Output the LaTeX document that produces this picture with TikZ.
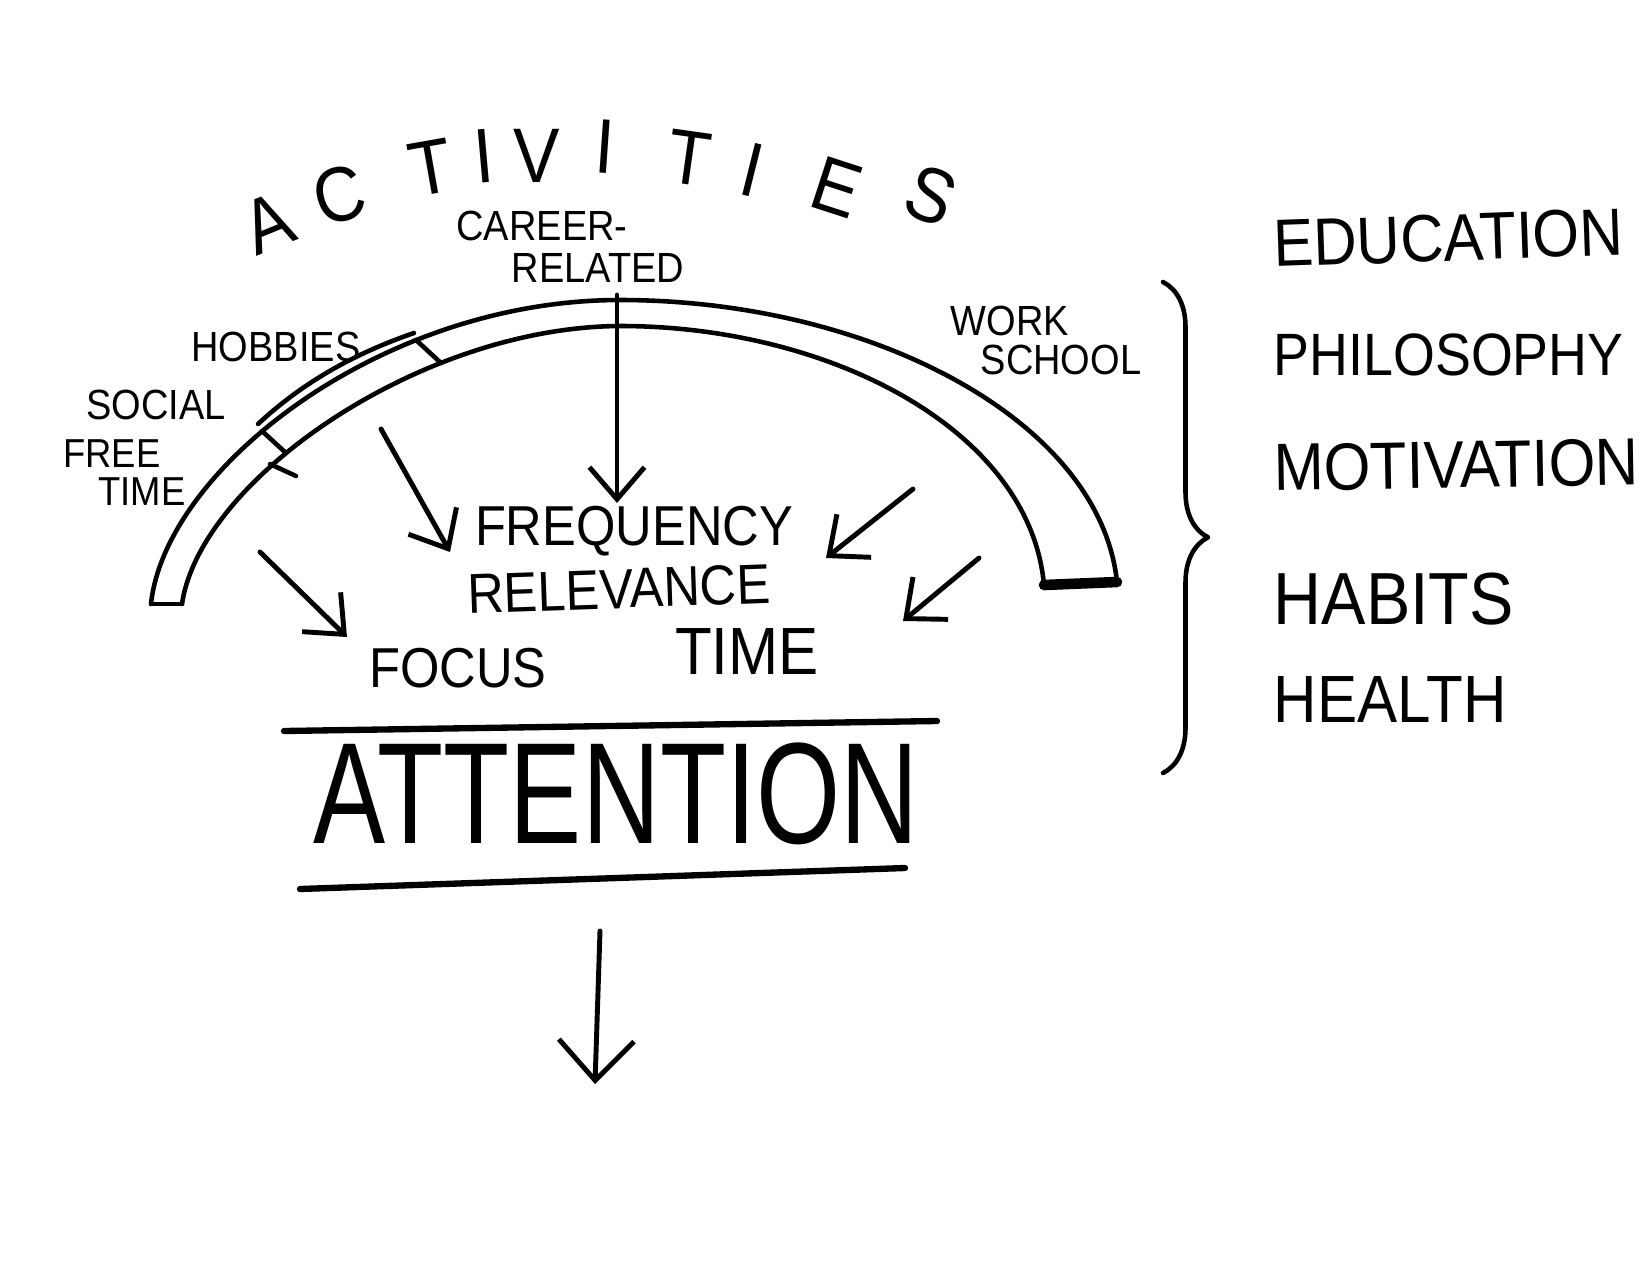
\documentclass[tikz,border=0pt]{standalone}
\usepackage{fontspec}
\setmainfont{Liberation Sans}
\newfontfamily\markerfont[FakeStretch=0.9]{Liberation Sans}
\newfontfamily\tallfont[FakeStretch=0.75]{Liberation Sans}
\usetikzlibrary{arrows.meta,decorations.pathreplacing,calc}
\tikzset{tag/.style={inner sep=0pt, font=\markerfont\fontsize{12}{15}\selectfont},
  word/.style={inner sep=0pt, font=\markerfont\fontsize{16}{19}\selectfont},
  item/.style={inner sep=0pt, anchor=west, font=\markerfont\fontsize{19}{23}\selectfont},
  letter/.style={inner sep=0pt, font=\markerfont\fontsize{22}{26}\selectfont},
  band/.style={line width=1.3pt, line cap=round, line join=round},
  pointer/.style={line width=1.4pt, line cap=round, -{Straight Barb[length=0.32cm,width=0.55cm]}},
  bigpointer/.style={pointer, -{Straight Barb[length=0.4cm,width=0.75cm]}}}

\begin{document}
\begin{tikzpicture}[x=0.01cm, y=-0.01cm]
    \useasboundingbox (0,0) rectangle (1650,1275);
    % title over the arch
    \node[letter, rotate=22] (act1) at (268,223) {A};
    \node[letter, rotate=16] (act2) at (339,195) {C};
    \node[letter, rotate=10] (act3) at (431,168) {T};
    \node[letter, rotate=5] (act4) at (484,156) {I};
    \node[letter] (act5) at (537,156) {V};
    \node[letter, rotate=-4] (act6) at (605,147) {I};
    \node[letter, rotate=-8] (act7) at (689,158) {T};
    \node[letter, rotate=-14] (act8) at (752,170) {I};
    \node[letter, rotate=-18] (act9) at (837,187) {E};
    \node[letter, rotate=-22] (act10) at (931,195) {S};

    % the arch
    \draw[band] (151,604) .. controls (165,470) and (380,300) .. (620,300) .. controls (870,300) and (1100,420) .. (1117,582);
    \draw[band] (182,604) .. controls (200,480) and (420,327) .. (620,326) .. controls (830,326) and (1030,430) .. (1044,585);
    \draw[band] (151,604) -- (182,604);
    \draw[band, line width=3pt] (1044,585) -- (1117,582);
    \draw[band] (258,424) .. controls (300,385) and (350,355) .. (414,333);
    \draw[band] (262,431) -- (286,453);
    \draw[band] (270,464) -- (296,476);
    \draw[band] (416,340) -- (441,363);

    % labels round the arch
    \node[tag] (career) at (542,226) {CAREER-};
    \node[tag] (related) at (598,268) {RELATED};
    \node[tag] (hobbies) at (276,347) {HOBBIES};
    \node[tag] (social) at (156,405) {SOCIAL};
    \node[tag, font=\markerfont\fontsize{11.5}{14}\selectfont] (free) at (112,454) {FREE};
    \node[tag, font=\markerfont\fontsize{11.5}{14}\selectfont] (freetime) at (142,492) {TIME};
    \node[tag] (work) at (1010,321) {WORK};
    \node[tag] (school) at (1061,360) {SCHOOL};

    % words under the arch
    \node[word] (freq) at (634,531) {FREQUENCY};
    \node[word, rotate=2] (relev) at (619,589) {RELEVANCE};
    \node[word] (focus) at (458,668) {FOCUS};
    \node[word, font=\markerfont\fontsize{19}{22}\selectfont] (time) at (747,652) {TIME};

    \coordinate (hobbyTail) at (381,429);
    \coordinate (freqHead) at (450,552);
    \coordinate (topTail) at (617,295);
    \coordinate (topHead) at (617,503);
    \coordinate (freeTail) at (260,552);
    \coordinate (focusHead) at (347,637);
    \coordinate (workTail) at (913,489);
    \coordinate (workHead) at (826,558);
    \coordinate (schoolTail) at (979,558);
    \coordinate (schoolHead) at (903,621);
    \draw[pointer] (hobbyTail) -- (freqHead);
    \draw[pointer] (topTail) -- (topHead);
    \draw[pointer] (freeTail) -- (focusHead);
    \draw[pointer] (workTail) -- (workHead);
    \draw[pointer] (schoolTail) -- (schoolHead);

    % attention
    \node[inner sep=0pt, font=\tallfont\fontsize{41}{46}\selectfont] (attn) at (616,794) {ATTENTION};
    \draw[band, line width=1.8pt] (284,731) -- (937,721);
    \draw[band, line width=1.8pt] (300,889) -- (905,868);
    \coordinate (outTail) at (600,931);
    \coordinate (outHead) at (595,1084);
    \draw[bigpointer] (outTail) -- (outHead);

    % brace and the list
    \coordinate (braceTop) at (1163,282);
    \coordinate (braceEnd) at (1163,773);
    \draw[band, decorate, decoration={brace, amplitude=0.45cm, aspect=0.52}] (braceTop) -- (braceEnd);
    \node[item, rotate=2] (edu) at (1273,244) {EDUCATION};
    \node[item, font=\markerfont\fontsize{17}{21}\selectfont] (philo) at (1273,355) {PHILOSOPHY};
    \node[item, rotate=1] (motiv) at (1273,468) {MOTIVATION};
    \node[item, font=\markerfont\fontsize{21}{25}\selectfont] (habits) at (1273,599) {HABITS};
    \node[item] (health) at (1273,700) {HEALTH};
\end{tikzpicture}
\end{document}
